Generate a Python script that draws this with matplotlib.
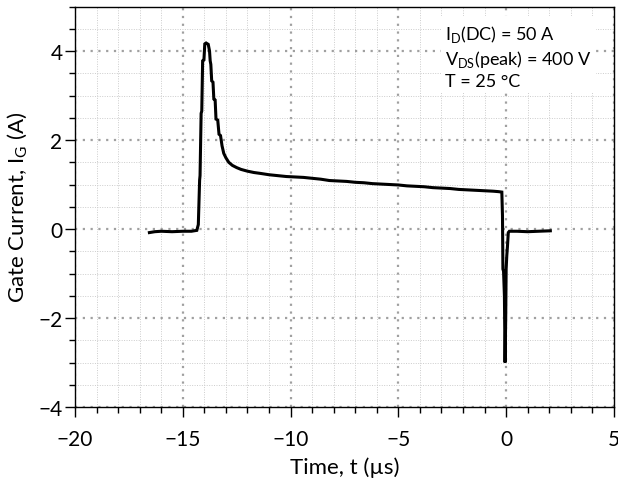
import numpy as np
import matplotlib
matplotlib.use('Agg')
import matplotlib.pyplot as plt
from matplotlib.ticker import MultipleLocator

plt.rcParams['font.family'] = ['Lato', 'DejaVu Sans']
plt.rcParams['mathtext.fontset'] = 'custom'
plt.rcParams['mathtext.rm'] = 'Lato'

# gate current trace (time in us, current in A)
time_us = [-16.55, -16.3, -16.0, -15.5, -15.0, -14.6, -14.35, -14.28, -14.25,
           -14.22, -14.2, -14.15, -14.12, -14.08, -14.02, -13.98, -13.92,
           -13.82, -13.76, -13.73, -13.70, -13.66, -13.60, -13.56, -13.50,
           -13.46, -13.38, -13.32, -13.25, -13.18, -13.10, -13.00, -12.87,
           -12.7, -12.5, -12.3, -12.0, -11.7, -11.4, -11.0, -10.6, -10.2,
           -9.8, -9.4, -9.0, -8.6, -8.2, -7.8, -7.4, -7.0, -6.6, -6.2, -5.8,
           -5.4, -5.0, -4.6, -4.2, -3.8, -3.4, -3.0, -2.6, -2.2, -1.8, -1.4,
           -1.0, -0.6, -0.35, -0.2, -0.17, -0.15, -0.12, -0.08, -0.05, -0.02,
           0.0, 0.03, 0.06, 0.10, 0.15, 0.5, 1.0, 1.5, 2.05]
current_a = [-0.08, -0.06, -0.05, -0.06, -0.05, -0.05, -0.03, 0.1, 0.6,
             1.1, 1.2, 2.6, 2.65, 3.78, 3.8, 4.16, 4.18,
             4.15, 4.0, 3.78, 3.7, 3.33, 3.3, 2.92, 2.9,
             2.47, 2.45, 2.13, 2.1, 1.87, 1.7, 1.6, 1.5,
             1.43, 1.38, 1.34, 1.30, 1.27, 1.25, 1.22, 1.20, 1.18,
             1.17, 1.16, 1.14, 1.12, 1.09, 1.08, 1.07, 1.05, 1.04, 1.02, 1.01,
             1.00, 0.99, 0.97, 0.96, 0.95, 0.93, 0.92, 0.91, 0.89, 0.88, 0.87,
             0.86, 0.85, 0.84, 0.83, 0.3, -0.9, -0.95, -1.5, -3.0, -2.0,
             -0.9, -0.6, -0.4, -0.08, -0.05, -0.05, -0.06, -0.05, -0.04]

fig = plt.figure(figsize=(6.18, 4.89), dpi=100)
ax = fig.add_axes([0.1214, 0.1656, 0.872, 0.819])

ax.plot(time_us, current_a, color='black', lw=2.2, solid_joinstyle='miter')

ax.set_xlim(-20, 5)
ax.set_ylim(-4, 5)
ax.xaxis.set_major_locator(MultipleLocator(5))
ax.xaxis.set_minor_locator(MultipleLocator(1))
ax.yaxis.set_major_locator(MultipleLocator(2))
ax.yaxis.set_minor_locator(MultipleLocator(0.5))
ax.grid(which='major', color='#a0a0a0', ls=(0, (1, 2.5)), lw=1.6)
ax.grid(which='minor', color='#cccccc', ls=(0, (1, 1.5)), lw=0.7)
ax.set_axisbelow(True)

ax.tick_params(which='major', direction='out', length=7, width=1, labelsize=15)
ax.tick_params(which='minor', direction='out', length=4, width=1)
ax.tick_params(axis='x', which='major', pad=9)
ax.tick_params(axis='y', which='major', pad=2)
for s in ax.spines.values():
    s.set_linewidth(1.0)

ax.set_xlabel('Time, t (µs)', fontsize=16, labelpad=5)
ax.set_ylabel(r'Gate Current, I$_\mathrm{G}$ (A)', fontsize=16, labelpad=6)

ax.text(0.687, 0.96, r'I$_\mathrm{D}$(DC) = 50 A' + '\n' +
        r'V$_\mathrm{DS}$(peak) = 400 V' + '\n' + 'T = 25 °C',
        transform=ax.transAxes, fontsize=13, va='top', ha='left',
        linespacing=1.3,
        bbox=dict(facecolor='white', edgecolor='none', pad=3))

fig.savefig('out.png', dpi=100)
